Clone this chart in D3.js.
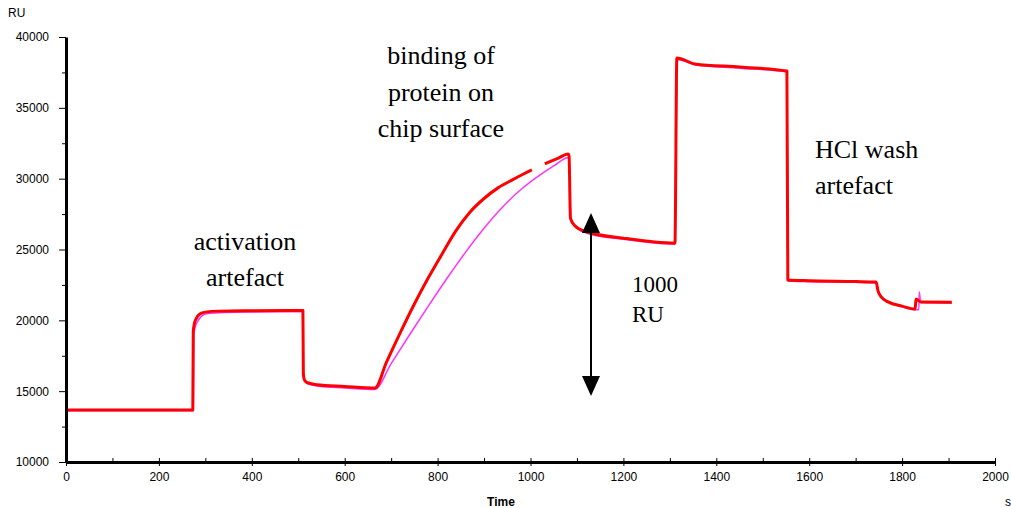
<!DOCTYPE html>
<html>
<head>
<meta charset="utf-8">
<script src="https://cdn.jsdelivr.net/npm/d3@7"></script>
<style>
  body { margin: 0; background: #fff; }
  svg text { font-family: "Liberation Sans", Arial, sans-serif; }
</style>
</head>
<body>
<div id="chart"></div>
<script>
// red sensorgram (null = gap in the trace)
const redTime = [0, 273, 274, 276, 280, 288, 300, 330, 400, 510, 511, 514, 520, 540, 600, 665,
  690, 720, 750, 780, 810, 840, 870, 900, 930, 960, 985, 1003, null, 1031, 1060, 1081,
  1083, 1086, 1095, 1120, 1200, 1311, 1315, 1354, 1451, 1552, 1554, 1600, 1700, 1744,
  1748, 1755, 1770, 1800, 1828, 1830, 1840, 1907];
const redRU = [13670, 13670, 19200, 19700, 20100, 20450, 20580, 20650, 20680, 20700, 16200, 15750, 15600, 15450, 15330, 15220,
  17050, 19150, 21150, 23000, 24700, 26350, 27650, 28600, 29350, 29900, 30330, 30620, null, 31050, 31450, 31750,
  31600, 27200, 26700, 26250, 25800, 25450, 38520, 38100, 37880, 37600, 22850, 22800, 22740, 22700,
  22100, 21650, 21300, 21000, 20800, 21500, 21300, 21280];

// magenta sensorgram
const magTime = [0, 274, 275, 278, 284, 292, 305, 340, 400, 510, 511, 515, 522, 545, 600, 665,
  700, 740, 780, 820, 860, 900, 940, 980, 1020, 1050, 1081,
  1083, 1087, 1097, 1122, 1200, 1311, 1316, 1356, 1451, 1552, 1555, 1600, 1700, 1745,
  1749, 1757, 1772, 1800, 1828, 1836, 1837, 1840, 1907];
const magRU = [13620, 13620, 19000, 19500, 19950, 20300, 20480, 20560, 20590, 20600, 16100, 15650, 15500, 15350, 15230, 15120,
  16950, 19000, 21000, 22950, 24800, 26500, 28000, 29250, 30250, 30900, 31480,
  31450, 27100, 26600, 26150, 25720, 25380, 38420, 38020, 37800, 37520, 22780, 22730, 22680, 22640,
  22050, 21600, 21250, 20950, 20750, 20750, 22000, 21250, 21220];

const xTicks = [0, 200, 400, 600, 800, 1000, 1200, 1400, 1600, 1800, 2000];
const yTicks = [10000, 15000, 20000, 25000, 30000, 35000, 40000];

const width = 1011, height = 508;
const svg = d3.select("#chart").append("svg")
  .attr("width", width).attr("height", height);

const x = d3.scaleLinear().domain([0, 2000]).range([66, 995]);
const y = d3.scaleLinear().domain([10000, 40000]).range([462, 37]);

// curves
const line = d3.line()
  .defined(d => d[0] !== null)
  .curve(d3.curveMonotoneX)
  .x(d => x(d[0])).y(d => y(d[1]));

svg.append("path")
  .datum(magTime.map((t, i) => [t, magRU[i]]))
  .attr("d", line)
  .attr("fill", "none").attr("stroke", "#ff33ff").attr("stroke-width", 1.5);

svg.append("path")
  .datum(redTime.map((t, i) => [t, redRU[i]]))
  .attr("d", line)
  .attr("fill", "none").attr("stroke", "#ff0000").attr("stroke-width", 3)
  .attr("stroke-linejoin", "round");

// axes
const fmt = d3.format("d");

const xMinor = svg.append("g").attr("transform", "translate(0,462)")
  .call(d3.axisTop(x).tickValues(d3.range(0, 2001, 100)).tickSize(4).tickFormat(""));
xMinor.select(".domain").remove();

const xAxis = svg.append("g").attr("transform", "translate(0,462)")
  .call(d3.axisBottom(x).tickValues(xTicks).tickFormat(fmt).tickSize(4).tickSizeOuter(0).tickPadding(6));
xAxis.select(".domain").attr("stroke-width", 3);

const yMinor = svg.append("g").attr("transform", "translate(66,0)")
  .call(d3.axisLeft(y).tickValues(d3.range(12500, 40000, 5000)).tickSize(4).tickFormat(""));
yMinor.select(".domain").remove();

const yAxis = svg.append("g").attr("transform", "translate(66,0)")
  .call(d3.axisLeft(y).tickValues(yTicks).tickFormat(fmt).tickSize(7).tickSizeOuter(0).tickPadding(10));
yAxis.select(".domain").attr("stroke-width", 3);

svg.selectAll(".tick text").attr("font-size", 12).attr("fill", "#000");

svg.append("text").attr("x", 8).attr("y", 17).attr("font-size", 12).text("RU");
svg.append("text").attr("x", 501).attr("y", 506).attr("font-size", 12)
  .attr("font-weight", "bold").attr("text-anchor", "middle").text("Time");
svg.append("text").attr("x", 1005).attr("y", 506).attr("font-size", 12).text("s");

// annotations
function label(lines, cx, y0, anchor, size, gap) {
  const t = svg.append("text")
    .attr("text-anchor", anchor)
    .style("font-family", "'Liberation Serif', 'Times New Roman', serif")
    .attr("font-size", size);
  lines.forEach((s, i) => {
    t.append("tspan").attr("x", cx).attr("y", y0 + i * gap).text(s);
  });
}
label(["activation", "artefact"], 245, 250, "middle", 26, 36);
label(["binding of", "protein on", "chip surface"], 441, 64, "middle", 26, 36.5);
label(["HCl wash", "artefact"], 815, 158, "start", 26, 36);
label(["1000", "RU"], 632, 292, "start", 23, 30);

// 1000 RU arrow
const ax = 591, aTop = 213, aBot = 396;
svg.append("line").attr("x1", ax).attr("x2", ax).attr("y1", aTop + 10).attr("y2", aBot - 10)
  .attr("stroke", "#000").attr("stroke-width", 2);
svg.append("path").attr("d", `M${ax},${aTop} L${ax - 9},${aTop + 20} L${ax + 9},${aTop + 20} Z`);
svg.append("path").attr("d", `M${ax},${aBot} L${ax - 9},${aBot - 20} L${ax + 9},${aBot - 20} Z`);
</script>
</body>
</html>
